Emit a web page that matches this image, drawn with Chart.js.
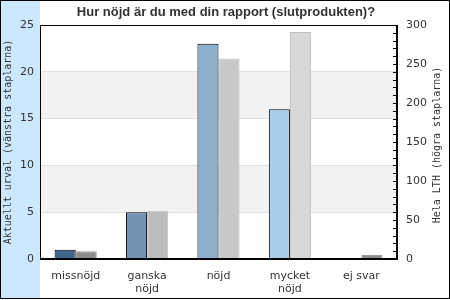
<!DOCTYPE html>
<html>
<head>
<meta charset="utf-8">
<script src="https://cdn.jsdelivr.net/npm/chart.js@4"></script>
<style>
  html, body { margin: 0; padding: 0; background: #fff; }
  #wrap { width: 450px; height: 300px; position: relative; }
</style>
</head>
<body>
<div id="wrap"><canvas id="myChart" width="450" height="300"></canvas></div>
<script>
const ctx = document.getElementById('myChart');

// data
const categories = [['missnöjd'], ['ganska', 'nöjd'], ['nöjd'], ['mycket', 'nöjd'], ['ej svar']];
const urvalData = [1, 5, 23, 16, 0];
const lthData = [10, 62, 257, 291, 5];
const urvalColors = ['#43658a', '#7393b0', '#8eb0cc', '#abcde9', '#43658a'];
const lthColors = ['#8c8c8c', '#bcbcbc', '#c8c8c8', '#d8d8d8', '#8c8c8c'];
const lthBorders = ['#9a9a9a', '#c4c4c4', '#bdbdbd', '#c0c0c0', '#9a9a9a'];
const titleText = 'Hur nöjd är du med din rapport (slutprodukten)?';
const leftTitle = 'Aktuellt urval (vänstra staplarna)';
const rightTitle = 'Hela LTH (högra staplarna)';

// background, bands, frame, right title and minor ticks
const decor = {
  id: 'decor',
  beforeDraw(chart) {
    const c = chart.ctx;
    const a = chart.chartArea;
    const y = chart.scales.y;
    c.save();
    c.fillStyle = '#fff';
    c.fillRect(0, 0, 450, 300);
    c.fillStyle = '#cce8ff';
    c.fillRect(1, 1, 39, 297);
    // alternating bands
    c.fillStyle = '#f2f2f2';
    [[5, 10], [15, 20]].forEach(function (b) {
      const t = y.getPixelForValue(b[1]);
      const bt = y.getPixelForValue(b[0]);
      c.fillRect(a.left, t, a.right - a.left, bt - t);
    });
    c.fillStyle = '#333';
    c.font = 'bold 13px "Liberation Sans", Arial, sans-serif';
    c.textAlign = 'center';
    c.textBaseline = 'middle';
    c.fillText(titleText, 226, 12);
    // right axis title reads bottom to top
    c.font = '10px "DejaVu Sans Mono"';
    c.translate(437, 145);
    c.rotate(-Math.PI / 2);
    c.fillText(rightTitle, 0, 0);
    c.restore();
  },
  afterDraw(chart) {
    const c = chart.ctx;
    const a = chart.chartArea;
    const y1 = chart.scales.y1;
    c.save();
    c.strokeStyle = '#000';
    c.lineWidth = 1;
    c.strokeRect(Math.round(a.left) + 0.5, Math.round(a.top) + 0.5, Math.round(a.right - a.left) - 1, Math.round(a.bottom - a.top) - 1);
    c.beginPath();
    y1.ticks.forEach(function (t) {
      const p = Math.round(y1.getPixelForValue(t.value)) + 0.5;
      c.moveTo(a.right - 4, p);
      c.lineTo(a.right, p);
    });
    c.stroke();
    c.strokeRect(0.5, 0.5, 449, 298);
    c.restore();
  }
};

new Chart(ctx, {
  type: 'bar',
  data: {
    labels: categories,
    datasets: [{
      label: 'Aktuellt urval',
      data: urvalData,
      yAxisID: 'y',
      backgroundColor: urvalColors,
      borderColor: '#000',
      borderWidth: 1,
      categoryPercentage: 0.59,
      barPercentage: 1
    }, {
      label: 'Hela LTH',
      data: lthData,
      yAxisID: 'y1',
      backgroundColor: lthColors,
      borderColor: lthBorders,
      borderWidth: 1,
      categoryPercentage: 0.59,
      barPercentage: 1
    }]
  },
  options: {
    responsive: false,
    animation: false,
    layout: { padding: { top: 25, left: 0, right: 0, bottom: 0 } },
    plugins: {
      legend: { display: false },
      tooltip: { enabled: false }
    },
    scales: {
      x: {
        grid: { display: false, drawTicks: false },
        border: { color: '#000' },
        ticks: { color: '#333', font: { family: '"DejaVu Sans"', size: 11, lineHeight: 1.15 }, padding: 11, maxRotation: 0, autoSkip: false },
        afterFit: function (s) { s.height = 41; }
      },
      y: {
        position: 'left',
        min: 0, max: 25,
        grid: { color: '#e0e0e0', drawTicks: false },
        border: { color: '#000' },
        ticks: { stepSize: 5, color: '#333', font: { family: '"DejaVu Sans"', size: 11 }, padding: 6 },
        title: { display: true, text: leftTitle, color: '#333', font: { family: '"DejaVu Sans Mono"', size: 10 }, padding: { top: 2, bottom: 0 } },
        afterFit: function (s) { s.width = 40; }
      },
      y1: {
        position: 'right',
        min: 0, max: 300,
        grid: { drawOnChartArea: false, drawTicks: false },
        border: { color: '#000' },
        ticks: {
          stepSize: 10, color: '#333', font: { family: '"DejaVu Sans"', size: 11 }, padding: 9, autoSkip: false,
          callback: function (v) { return v % 50 === 0 ? v : ''; }
        },
        title: { display: false },
        afterFit: function (s) { s.width = 53; }
      }
    }
  },
  plugins: [decor]
});
</script>
</body>
</html>
